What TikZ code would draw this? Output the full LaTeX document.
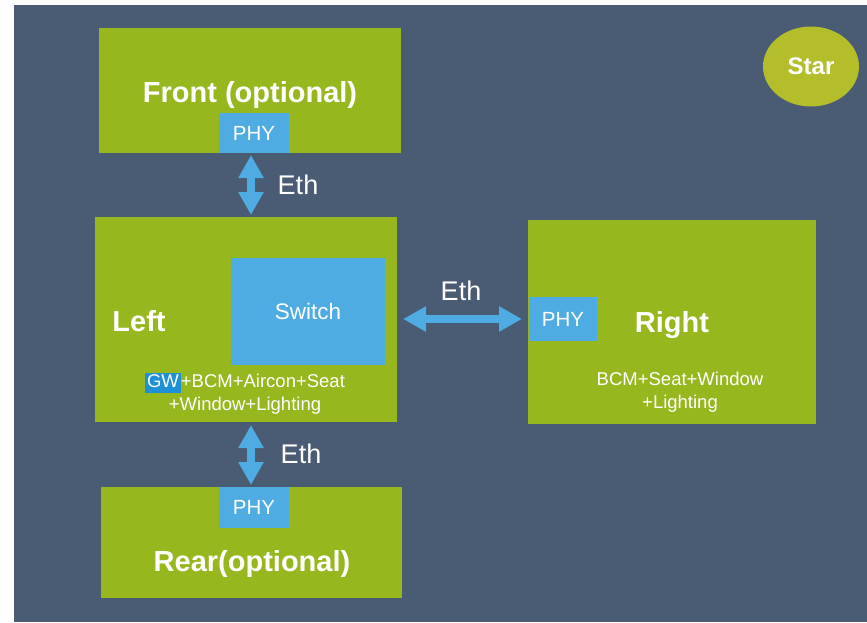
\documentclass[tikz,border=0pt]{standalone}
\usepackage{fontspec}
\setmainfont{Liberation Sans}
\usetikzlibrary{arrows.meta,shapes.geometric}
\definecolor{bg}{RGB}{74,92,115}
\definecolor{grn}{RGB}{151,183,31}
\definecolor{lblue}{RGB}{79,172,226}
\definecolor{gwblue}{RGB}{30,144,214}
\definecolor{stargrn}{RGB}{180,190,43}
\definecolor{shad}{RGB}{40,50,62}
\begin{document}
\begin{tikzpicture}[x=1pt,y=-1pt,
  box/.style={fill=grn, draw=none, inner sep=0pt, outer sep=0pt},
  bluebox/.style={fill=lblue, draw=none, inner sep=0pt, outer sep=0pt, text=white,
     font=\fontsize{20.5}{24}\selectfont},
  title/.style={text=white, inner sep=0pt, font=\fontsize{29}{33}\selectfont\bfseries},
  small/.style={text=white, inner sep=0pt, align=center, font=\fontsize{18.5}{23}\selectfont},
  ethlbl/.style={text=white, inner sep=0pt, font=\fontsize{27}{31}\selectfont},
  eth/.style={draw=lblue, line width=8pt, {Triangle[width=24pt,length=23pt]}-{Triangle[width=24pt,length=23pt]}},
  ethshadow/.style={draw=shad, opacity=0.35, line width=8pt, {Triangle[width=24pt,length=23pt]}-{Triangle[width=24pt,length=23pt]}}
]
\useasboundingbox (0,0) rectangle (867,622);
\fill[bg] (14,5) rectangle (867,622);

% boxes
\node[box, minimum width=302pt, minimum height=125pt] (front) at (250,90.5) {};
\node[box, minimum width=302pt, minimum height=205pt] (left) at (246,319.5) {};
\node[box, minimum width=288pt, minimum height=204pt] (right) at (672,322) {};
\node[box, minimum width=301pt, minimum height=111pt] (rear) at (251.5,542.5) {};

\node[bluebox, minimum width=154pt, minimum height=107pt, font=\fontsize{22.5}{26}\selectfont] (switch) at (308,311.5) {Switch};
\node[bluebox, minimum width=70pt, minimum height=40pt] (fphy) at (254,133) {PHY};
\node[bluebox, minimum width=68pt, minimum height=44pt] (rphy) at (563,319) {PHY};
\node[bluebox, minimum width=70pt, minimum height=41pt] (bphy) at (254,507.5) {PHY};

% titles
\node[title] (ftitle) at (250,94.5) {Front (optional)};
\node[title] (ltitle) at (139,321) {Left};
\node[title] (rtitle) at (672,325.5) {Right};
\node[title] (btitle) at (252,563.5) {Rear(optional)};

\node[small] (ltext) at (245,393.5) {{\setlength{\fboxsep}{2pt}\colorbox{gwblue}{\vphantom{g}GW}}+BCM+Aircon+Seat\\+Window+Lighting};
\node[small] (rtext) at (680,392.5) {BCM+Seat+Window\\+Lighting};

% star
\node[ellipse, fill=stargrn, minimum width=96pt, minimum height=80pt, inner sep=0pt,
      text=white, font=\fontsize{24}{28}\selectfont\bfseries] (star) at (811,66.5) {Star};

% arrows
\begin{scope}[xshift=2pt,yshift=-2pt]
\draw[ethshadow, shorten <=2pt, shorten >=2pt] ([xshift=-3pt]fphy.south) -- ([xshift=-3pt]fphy.south |- left.north);
\draw[ethshadow, shorten <=6pt, shorten >=7pt] (left.east |- rphy.west) -- (rphy.west);
\draw[ethshadow, shorten <=3pt, shorten >=2pt] ([xshift=-3pt]bphy.north |- left.south) -- ([xshift=-3pt]bphy.north);
\end{scope}
\draw[eth, shorten <=2pt, shorten >=2pt] ([xshift=-3pt]fphy.south) -- ([xshift=-3pt]fphy.south |- left.north);
\draw[eth, shorten <=6pt, shorten >=7pt] (left.east |- rphy.west) -- (rphy.west);
\draw[eth, shorten <=3pt, shorten >=2pt] ([xshift=-3pt]bphy.north |- left.south) -- ([xshift=-3pt]bphy.north);

\node[ethlbl] (eth1) at (298,185) {Eth};
\node[ethlbl] (eth2) at (461,291) {Eth};
\node[ethlbl] (eth3) at (301,454) {Eth};
\end{tikzpicture}
\end{document}
